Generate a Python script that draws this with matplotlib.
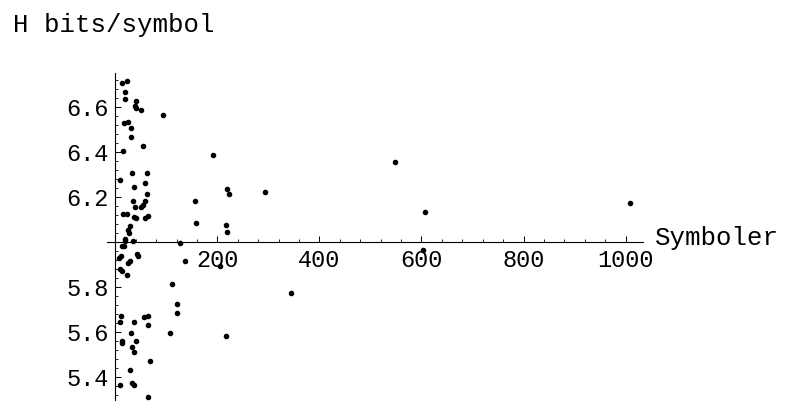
import matplotlib
matplotlib.use("Agg")
import matplotlib.pyplot as plt
from matplotlib.ticker import MultipleLocator

# number of symbols vs entropy (bits/symbol)
symbols = [13, 22, 19, 19, 41, 38, 40, 51, 94, 16,
           24, 30, 30, 14, 53, 32, 61, 9, 37, 58,
           61, 35, 58, 38, 50, 53, 15, 22, 37, 40,
           58, 64, 28, 24, 26, 18, 19, 35, 12, 17,
           44, 42, 10, 7, 29, 25, 9, 13, 22, 111,
           120, 121, 10, 8, 37, 56, 63, 63, 30, 106,
           12, 13, 40, 33, 36, 68, 28, 32, 36, 9,
           64, 126, 137, 156, 158, 191, 219, 223, 293, 217,
           219, 204, 217, 345, 548, 606, 602, 1009]
entropy = [6.706, 6.716, 6.666, 6.636, 6.626, 6.605, 6.596, 6.586, 6.566, 6.528,
           6.535, 6.506, 6.465, 6.407, 6.425, 6.305, 6.305, 6.275, 6.245, 6.264,
           6.213, 6.183, 6.183, 6.155, 6.157, 6.166, 6.124, 6.124, 6.112, 6.105,
           6.106, 6.115, 6.071, 6.051, 6.041, 6.012, 6.004, 6.006, 5.983, 5.984,
           5.938, 5.946, 5.936, 5.930, 5.914, 5.906, 5.879, 5.871, 5.855, 5.813,
           5.724, 5.682, 5.672, 5.642, 5.642, 5.666, 5.672, 5.632, 5.593, 5.593,
           5.560, 5.552, 5.561, 5.534, 5.511, 5.471, 5.432, 5.373, 5.363, 5.363,
           5.312, 5.994, 5.914, 6.183, 6.083, 6.385, 6.234, 6.215, 6.223, 6.074,
           6.044, 5.893, 5.583, 5.773, 6.354, 6.134, 5.964, 6.174]

x_ticks = [200, 400, 600, 800, 1000]
y_ticks = [5.4, 5.6, 5.8, 6.2, 6.4, 6.6]
y_tick_labels = ['5.4', '5.6', '5.8', '6.2', '6.4', '6.6']

W, H = 786, 401
plt.rcParams['font.family'] = ['Liberation Mono', 'DejaVu Sans Mono']

fig = plt.figure(figsize=(W / 100, H / 100), dpi=100)
ax = fig.add_axes([106.5 / W, 0, (642.7 - 106.5) / W, (401 - 73) / H])
ax.set_xlim(-17.6, 1033.7)
ax.set_ylim(5.292, 6.752)

ax.plot(symbols, entropy, 'o', color='black', markersize=3.0, clip_on=False)

# axes crossing at (0, 6) like Mathematica
for side in ['top', 'right']:
    ax.spines[side].set_visible(False)
ax.spines['left'].set_position(('data', 0))
ax.spines['bottom'].set_position(('data', 6))
for side in ['left', 'bottom']:
    ax.spines[side].set_linewidth(0.8)

ax.set_xticks(x_ticks)
ax.set_xticklabels([str(t) for t in x_ticks])
ax.set_yticks(y_ticks)
ax.set_yticklabels(y_tick_labels)
ax.xaxis.set_minor_locator(MultipleLocator(40))
ax.yaxis.set_minor_locator(MultipleLocator(0.04))
ax.tick_params(which='major', direction='in', length=4, width=0.7,
               labelsize=17, pad=5)
ax.tick_params(which='minor', direction='in', length=2.2, width=0.6)
ax.patch.set_alpha(0)

fig.text(12.7 / W, 1 - 32 / H, 'H bits/symbol', fontsize=18.5, va='baseline')
fig.text(655 / W, 1 - 245 / H, 'Symboler', fontsize=18.5, va='baseline')

fig.savefig('out.png', dpi=100)
